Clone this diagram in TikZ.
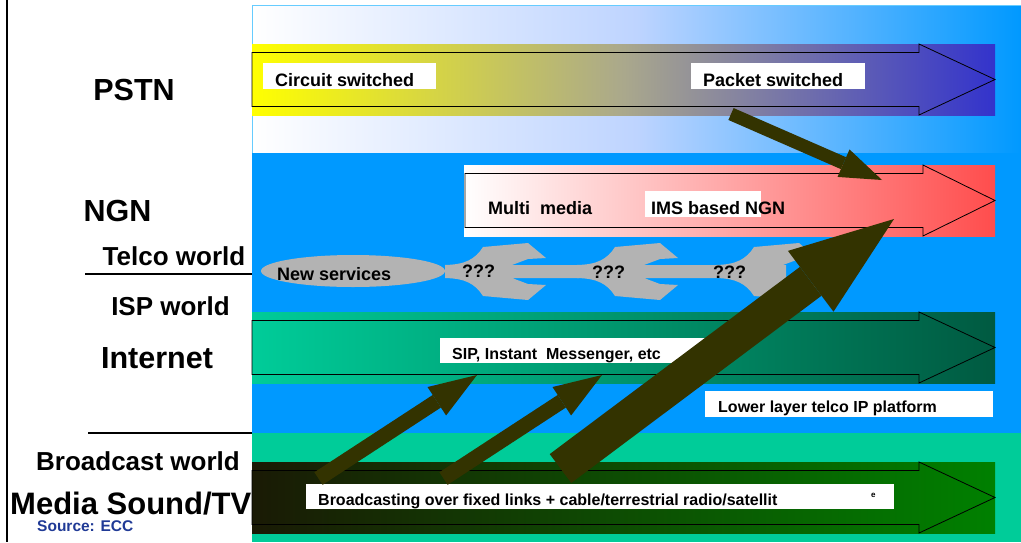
\documentclass[tikz,border=0pt]{standalone}
\usepackage{fontspec}
\setmainfont{Liberation Sans}
\usetikzlibrary{arrows.meta,positioning,shapes.geometric}

\definecolor{skyblue}{RGB}{0,153,255}
\definecolor{panelmid}{RGB}{190,212,255}
\definecolor{edgeblue}{RGB}{102,204,255}
\definecolor{pstnmid}{RGB}{170,168,140}
\definecolor{pstnend}{RGB}{51,51,204}
\definecolor{ngnend}{RGB}{255,77,77}
\definecolor{inetteal}{RGB}{0,204,153}
\definecolor{inetmid}{RGB}{0,148,108}
\definecolor{inetend}{RGB}{0,90,65}
\definecolor{mediadark}{RGB}{26,26,5}
\definecolor{mediaend}{RGB}{0,128,0}
\definecolor{darkolive}{RGB}{51,51,0}
\definecolor{greyarrow}{RGB}{179,179,179}
\definecolor{srcblue}{RGB}{32,58,150}

\newcommand{\bandfont}{\fontsize{18}{20}\selectfont\bfseries}
\newcommand{\boxfont}{\fontsize{16}{18}\selectfont\bfseries}
\newcommand{\netfont}{\fontsize{30.5}{32}\selectfont\bfseries}
\newcommand{\worldfont}{\fontsize{26}{28}\selectfont\bfseries}

% band outline: left x, head x, band top, band bottom
\newcommand{\bandoutline}[4]{%
  \draw[outline] (#1,#3+8.5) -- (#2,#3+8.5) -- (#2,#3) -- (995,{(#3+#4)/2})
    -- (#2,#4) -- (#2,#4-8.5) -- (#1,#4-8.5) -- cycle;}

\begin{document}
\begin{tikzpicture}[x=1pt,y=-1pt,
    outline/.style={draw=black,line width=0.8pt},
    wbox/.style={fill=white,inner sep=0pt,minimum height=26pt},
    lbl/.style={font=\bandfont,inner sep=0pt,anchor=base west},
    sublbl/.style={font=\boxfont,inner sep=0pt,anchor=base west},
    side/.style={font=\netfont,inner sep=0pt,anchor=base},
    world/.style={font=\worldfont,inner sep=0pt,anchor=base},
    feed/.style={draw=darkolive,line width=#1}]

  \useasboundingbox (0,0) rectangle (1021,542);
  \fill[white] (0,0) rectangle (1021,542);

  % panels
  \shade[left color=white,right color=skyblue,middle color=panelmid] (252,5) rectangle (1021,153);
  \draw[edgeblue,line width=1pt] (252,153) -- (252,5) -- (1021,5);
  \fill[skyblue] (252,153) rectangle (1021,433);
  \fill[inetteal] (252,433) rectangle (1021,542);

  % bands
  \shade[left color=yellow,right color=pstnend,middle color=pstnmid] (252,44) rectangle (995,115);
  \shade[left color=white,right color=ngnend] (464,165) rectangle (995,236);
  \shade[left color=inetteal,right color=inetend,middle color=inetmid] (252,312) rectangle (995,383);
  \shade[left color=mediadark,right color=mediaend] (252,462) rectangle (995,533);
  \bandoutline{252}{919}{44}{115}
  \bandoutline{465}{923}{165}{236}
  \bandoutline{252}{919}{312}{383}
  \bandoutline{252}{919}{462}{533}

  % labels in the bands
  \node[wbox,minimum width=173pt] (circbox) at (349.5,76) {};
  \node[lbl] (circ) at (275,86) {Circuit switched};
  \node[wbox,minimum width=174pt] (pktbox) at (778,76) {};
  \node[lbl] (pkt) at (703,86) {Packet switched};
  \node[lbl] (multi) at (488,214) {Multi~~media};
  \node[wbox,minimum width=116pt] (imsbox) at (703,204) {};
  \node[lbl] (ims) at (651,214) {IMS based NGN};
  \node[wbox,minimum width=265pt,minimum height=25pt] (sipbox) at (572.5,350.5) {};
  \node[sublbl] (sip) at (452,359) {SIP, Instant~~Messenger, etc};
  \node[wbox,minimum width=288pt] (lowbox) at (849,404) {};
  \node[sublbl] (low) at (718,412) {Lower layer telco IP platform};
  \node[wbox,minimum width=588pt,minimum height=25pt] (bcbox) at (600,496.5) {};
  \node[sublbl] (bc) at (318,505) {Broadcasting over fixed links + cable/terrestrial radio/satellit};
  \node[font=\fontsize{8}{9}\selectfont\bfseries,inner sep=0pt,anchor=base west] (bce) at (871,497) {e};

  % new services
  \foreach \x/\l in {445/134,577/139,716/70}
    \fill[greyarrow,shift={(\x,271.5)}] (0,-6.5) .. controls (20,-7) and (30,-12) .. (38,-24.5)
      -- (83,-28.5) -- (101,-13.5) -- (83,-12.5) -- (67,-6.5) -- (\l,-6.5) -- (\l,6.5)
      -- (67,6.5) -- (83,12.5) -- (101,13.5) -- (83,28.5) -- (38,24.5)
      .. controls (30,12) and (20,7) .. (0,6.5) -- cycle;
  \node[ellipse,fill=greyarrow,minimum width=184pt,minimum height=32pt,inner sep=0pt] (newsvc) at (353,271) {};
  \node[lbl] (newsvctxt) at (277,280) {New services};
  \node[lbl] (qa) at (462,277) {???};
  \node[lbl] (qb) at (592,278) {???};
  \node[lbl] (qc) at (713,278) {???};

  % migration arrows
  \coordinate (pktout) at (731,114);
  \coordinate (ngnin) at (882,180);
  \coordinate (bcout1) at (318.5,478.5);
  \coordinate (sipin1) at (477,375);
  \coordinate (bcout2) at (443.5,478.5);
  \coordinate (sipin2) at (602,375);
  \coordinate (bcout3) at (560.5,468.5);
  \coordinate (ngnin2) at (894,219);
  \draw[feed=13pt,-{Triangle[length=42pt,width=30pt,line width=0pt]}] (pktout) -- (ngnin);
  \draw[feed=15pt,-{Triangle[length=48pt,width=34pt,line width=0pt]}] (bcout1) -- (sipin1);
  \draw[feed=15pt,-{Triangle[length=48pt,width=34pt,line width=0pt]}] (bcout2) -- (sipin2);
  \draw[feed=36pt,-{Triangle[length=104pt,width=76pt,line width=0pt]}] (bcout3) -- (ngnin2);

  % worlds on the left
  \draw[line width=2pt] (7,0) -- (7,542);
  \node[side] (pstn) at (134,100) {PSTN};
  \node[side] (ngn) at (117.5,221) {NGN};
  \node[world] (telco) at (174,265.5) {Telco world};
  \draw[line width=2pt] (85,274) -- (252,274);
  \node[world] (isp) at (170.5,315) {ISP world};
  \node[side] (inet) at (157,368) {Internet};
  \draw[line width=2pt] (88,433) -- (252,433);
  \node[world] (bcw) at (138,470) {Broadcast world};
  \node[font=\fontsize{31}{33}\selectfont\bfseries,inner sep=0pt,anchor=base west] (media) at (10,514) {Media Sound/TV};
  \node[font=\fontsize{15.5}{17}\selectfont\bfseries,text=srcblue,inner sep=0pt,anchor=base west] (src) at (37,531) {Source: ECC};
\end{tikzpicture}
\end{document}
